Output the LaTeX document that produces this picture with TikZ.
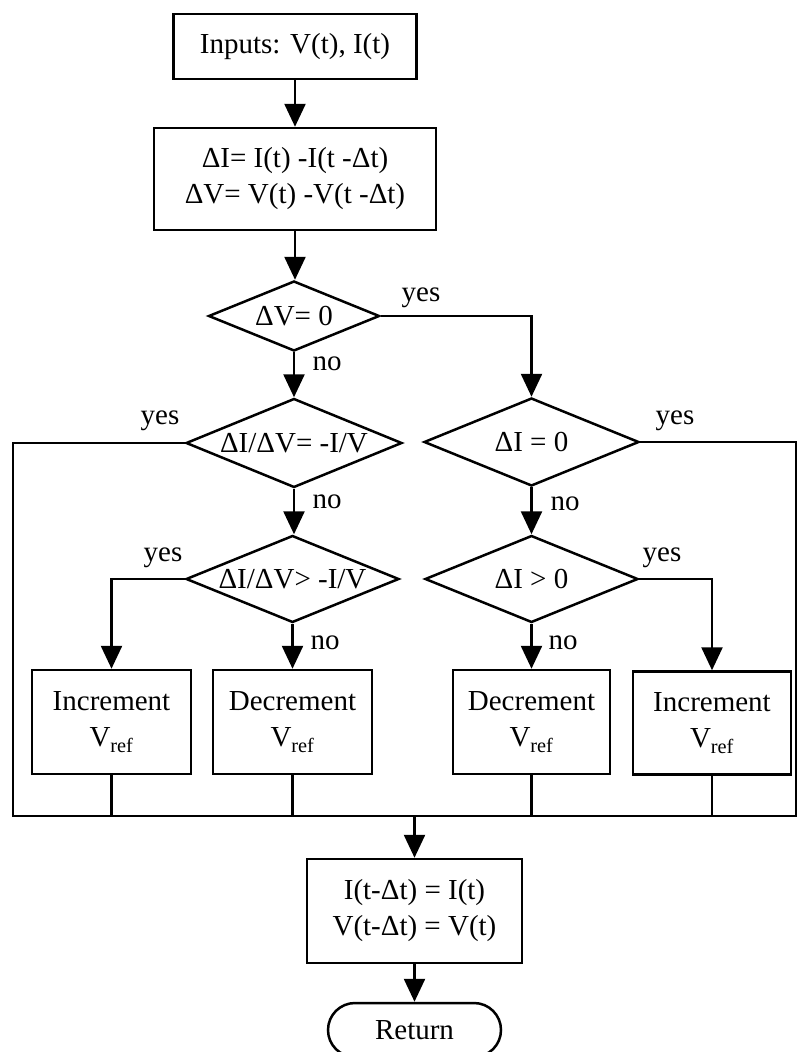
\documentclass[tikz,border=0pt]{standalone}
\usepackage{fontspec}
\setmainfont{Liberation Serif}
\usetikzlibrary{arrows.meta,shapes.geometric}
% diamond text that does not widen the shape
\newcommand{\dtext}[1]{\makebox[0pt]{\raisebox{-0.33em}[0pt][0pt]{#1}}}
\begin{document}
\begin{tikzpicture}[x=1pt,y=-1pt,line width=2.5pt,
  font=\fontsize{29}{36}\selectfont,
  >={Triangle[length=23pt,width=21pt]},
  box/.style={draw,rectangle,align=center,inner sep=0pt},
  decision/.style={draw,diamond,inner sep=0pt},
  lbl/.style={inner sep=0pt}]
\useasboundingbox (0,0) rectangle (798,1052);
\clip (0,0) rectangle (798,1052);
% process boxes
\node[box,minimum width=243,minimum height=65] (inp) at (295,46.5) {Inputs: V(t), I(t)};
\node[box,minimum width=282,minimum height=102] (diff) at (295,179) {ΔI= I(t) -I(t -Δt)\\ΔV= V(t) -V(t -Δt)};
% decisions
\node[decision,minimum width=171,minimum height=70] (dv) at (294,316) {\dtext{ΔV= 0}};
\node[decision,minimum width=216,minimum height=89] (slope) at (294,443) {\dtext{ΔI/ΔV= -I/V}};
\node[decision,minimum width=215,minimum height=88] (dizero) at (531.5,442) {\dtext{ΔI = 0}};
\node[decision,minimum width=213,minimum height=87] (slopegt) at (292.5,579) {\dtext{ΔI/ΔV> -I/V}};
\node[decision,minimum width=213,minimum height=87] (dipos) at (531.5,579) {\dtext{ΔI > 0}};
% update boxes
\node[box,minimum width=159,minimum height=104] (incL) at (111.5,722) {Increment\\V\textsubscript{ref}};
\node[box,minimum width=159,minimum height=104] (decL) at (292.5,722) {Decrement\\V\textsubscript{ref}};
\node[box,minimum width=157,minimum height=104] (decR) at (531.5,722) {Decrement\\V\textsubscript{ref}};
\node[box,minimum width=158,minimum height=103] (incR) at (712,723) {Increment\\V\textsubscript{ref}};
\node[box,minimum width=215,minimum height=104] (upd) at (414.5,911) {I(t-Δt) = I(t)\\V(t-Δt) = V(t)};
\node[draw,rounded corners=27pt,minimum width=173,minimum height=54,inner sep=0pt] (ret) at (414.5,1030) {Return};
% bus corners
\coordinate (busL) at (13,816);
\coordinate (busR) at (796,816);
% branch labels
\node[lbl] (yesdv) at (421,298) {yes};
\node[lbl] (nodv) at (327,364) {no};
\node[lbl] (yesslope) at (160,421) {yes};
\node[lbl] (noslope) at (327,502) {no};
\node[lbl] (yesdizero) at (675,421) {yes};
\node[lbl] (nodizero) at (565,504) {no};
\node[lbl] (yesslopegt) at (163,558) {yes};
\node[lbl] (noslopegt) at (325,643) {no};
\node[lbl] (yesdipos) at (662,558) {yes};
\node[lbl] (nodipos) at (563,643) {no};
% connectors
\draw[->] (inp) -- (diff);
\draw[->] (diff) -- (diff |- dv.north);
\draw[->] (dv) -- (slope);
\draw[->] (dv.east) -| (dizero.north);
\draw[->] (slope.south) -- (slope.south |- slopegt.north);
\draw[->] (dizero) -- (dipos);
\draw[->] (slopegt.west) -| (incL.north);
\draw[->] (slopegt) -- (decL);
\draw[->] (dipos) -- (decR);
\draw[->] (dipos.east) -| (incR.north);
\draw (slope.west) -| (busL) -- (busR) |- (dizero.east);
\draw (incL) -- (incL |- busL);
\draw (decL) -- (decL |- busL);
\draw (decR) -- (decR |- busL);
\draw (incR) -- (incR |- busL);
\draw[->] (upd |- busL) -- (upd);
\draw[->] (upd) -- (ret);
\end{tikzpicture}
\end{document}
